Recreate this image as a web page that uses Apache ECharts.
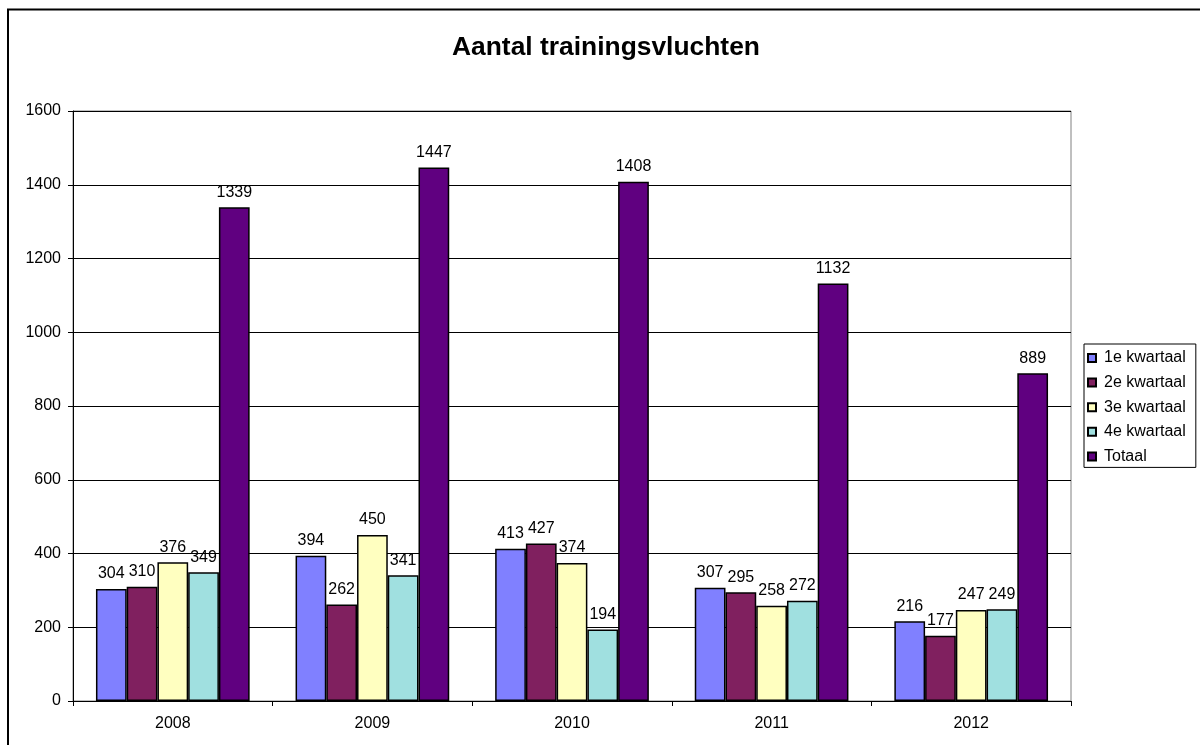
<!DOCTYPE html>
<html>
<head>
<meta charset="utf-8">
<script src="https://cdn.jsdelivr.net/npm/echarts@6/dist/echarts.min.js"></script>
<style>
html,body{margin:0;padding:0;background:#fff;}
#c{width:1200px;height:745px;}
</style>
</head>
<body>
<div id="c"></div>
<script>
var categories = ['2008', '2009', '2010', '2011', '2012'];
var q1 = [304, 394, 413, 307, 216];
var q2 = [310, 262, 427, 295, 177];
var q3 = [376, 450, 374, 258, 247];
var q4 = [349, 341, 194, 272, 249];
var totaal = [1339, 1447, 1408, 1132, 889];
var seriesNames = ['1e kwartaal', '2e kwartaal', '3e kwartaal', '4e kwartaal', 'Totaal'];
var seriesData = [q1, q2, q3, q4, totaal];
var colors = ['#8080FF', '#80205F', '#FFFFC0', '#A0E0E0', '#600080'];

var FONT = "'Liberation Sans', Arial, sans-serif";
var chart = echarts.init(document.getElementById('c'), null, {renderer: 'canvas'});

var series = seriesNames.map(function (n, i) {
  return {
    name: n,
    type: 'bar',
    data: seriesData[i],
    barGap: '0%',
    barCategoryGap: '23%',
    itemStyle: {color: colors[i], borderColor: '#000', borderWidth: 1.5},
    label: {show: true, position: 'top', distance: 7, color: '#000', fontSize: 16, fontFamily: FONT},
    emphasis: {disabled: true},
    animation: false
  };
});

chart.setOption({
  animation: false,
  backgroundColor: '#fff',
  title: {
    text: 'Aantal trainingsvluchten',
    left: 447, top: 30,
    textStyle: {fontFamily: FONT, fontWeight: 'bold', fontSize: 26.4, color: '#000'}
  },
  legend: {
    orient: 'vertical',
    left: 1084, top: 344,
    padding: [5, 10, 2, 3],
    itemWidth: 8, itemHeight: 8, itemGap: 6.6,
    borderColor: '#000', borderWidth: 1,
    icon: 'rect',
    textStyle: {fontFamily: FONT, fontSize: 16, color: '#000', lineHeight: 18, padding: [0, 0, 0, 3]},
    data: seriesNames
  },
  grid: {left: 73, right: 129, top: 111, bottom: 44, show: true, borderColor: '#808080', borderWidth: 1},
  xAxis: {
    type: 'category',
    data: categories,
    axisLine: {lineStyle: {color: '#000', width: 1}},
    axisTick: {show: true, alignWithLabel: false, length: 5, lineStyle: {color: '#000'}},
    axisLabel: {color: '#000', fontSize: 16, fontFamily: FONT, margin: 15}
  },
  yAxis: {
    type: 'value',
    min: 0, max: 1600, interval: 200,
    axisLine: {show: true, lineStyle: {color: '#000', width: 1}},
    axisTick: {show: true, length: 5, lineStyle: {color: '#000'}},
    axisLabel: {color: '#000', fontSize: 16, fontFamily: FONT, margin: 12, formatter: function (v) { return String(v); }},
    splitLine: {show: true, lineStyle: {color: '#000', width: 1}}
  },
  graphic: [
    {type: 'polyline', shape: {points: [[8, 745], [8, 9.5], [1200, 9.5]]}, style: {stroke: '#000', lineWidth: 2, fill: null}, z: 100}
  ],
  series: series
});
</script>
</body>
</html>
